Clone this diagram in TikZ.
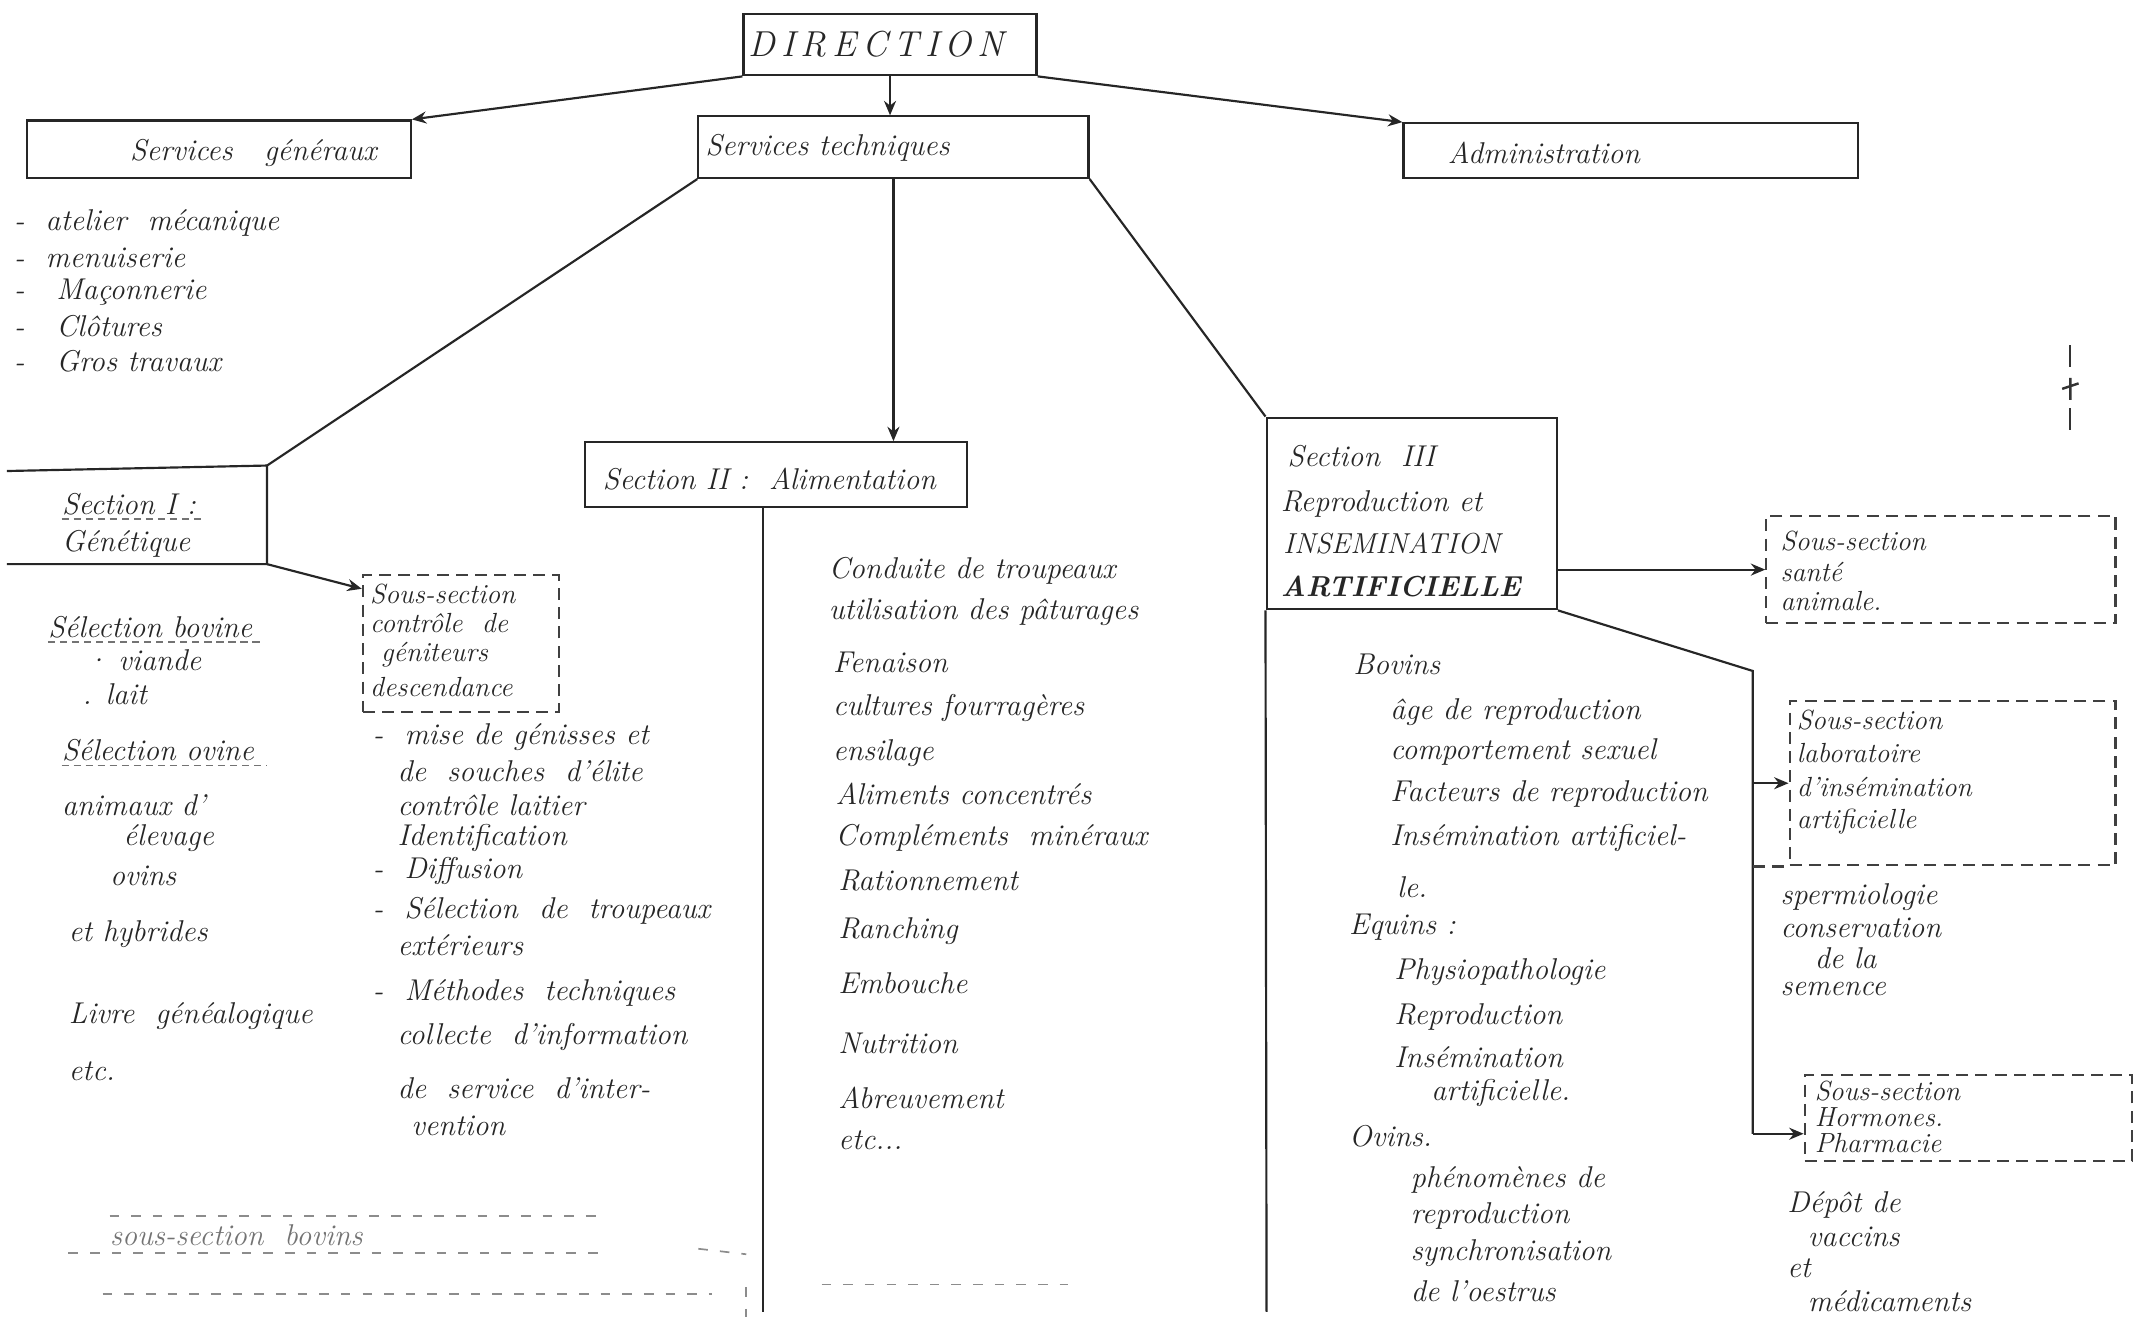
\documentclass[tikz,border=0pt]{standalone}
\usetikzlibrary{fit,arrows.meta}
\begin{document}
\begin{tikzpicture}[x=0.02cm,y=-0.02cm,
 bx/.style={draw=black!85,line width=0.9pt,inner sep=0pt},
 dbx/.style={draw=black!75,line width=0.9pt,dash pattern=on 5pt off 3pt,inner sep=0pt},
 ln/.style={draw=black!85,line width=0.9pt},
 arr/.style={ln,-{Stealth[length=6pt,width=5pt]}},
 tx/.style={anchor=west,inner sep=0pt,font=\fontsize{12.5}{14}\selectfont\itshape,text=black!85},
 stx/.style={tx,font=\fontsize{11.5}{13}\selectfont\itshape},
 ctx/.style={inner sep=0pt,font=\fontsize{12.5}{14}\selectfont\itshape,text=black!85},
 ul/.style={draw=black!55,line width=0.6pt,dash pattern=on 3pt off 2pt},
 faint/.style={draw=black!45,line width=0.7pt,dash pattern=on 4pt off 5pt}]
\useasboundingbox (0,0) rectangle (1568,979);

% top level
\node[bx,fit={(543,10)(757,55)}] (dir) {};
\node[ctx,font=\fontsize{15}{17}\selectfont\itshape] (dirt) at (640,32) {D\,I\,R\,E\,C\,T\,I\,O\,N};
\node[bx,fit={(20,88)(300,130)}] (sg) {};
\node[ctx] (sgt) at (185,112) {Services \ \ généraux};
\node[bx,fit={(510,85)(795,130)}] (st) {};
\node[tx] (stt) at (515,108) {Services techniques};
\node[bx,fit={(1025,90)(1357,130)}] (adm) {};
\node[tx] (admt) at (1057,112) {Administration};

\draw[arr] (dir.south west) -- (sg.north east);
\draw[arr] (dir.south) -- (dir.south |- st.north);
\draw[arr] (dir.south east) -- (adm.north west);

% services generaux list
\node[tx] (g1) at (10,163) {- \ atelier \ mécanique};
\node[tx] (g2) at (10,188) {- \ menuiserie};
\node[tx] (g3) at (10,213) {- \ \ Maçonnerie};
\node[tx] (g4) at (10,238) {- \ \ Clôtures};
\node[tx] (g5) at (10,264) {- \ \ Gros travaux};

% Section I
\coordinate (s1nw) at (5,344);
\coordinate (s1ne) at (195,340);
\coordinate (s1se) at (195,412);
\coordinate (s1sw) at (5,412);
\draw[ln] (s1nw) -- (s1ne) -- (s1se) -- (s1sw);
\draw[ln] (st.south west) -- (s1ne);
\node[tx] (s1a) at (45,368) {Section I :};
\draw[ul] (45,379) -- (150,379);
\node[tx] (s1b) at (45,397) {Génétique};

\node[tx] (a1) at (35,458) {Sélection bovine};
\draw[ul] (35,469) -- (190,469);
\node[tx] (a2) at (62,482) {· viande};
\node[tx] (a3) at (60,507) {. lait};
\node[tx] (a4) at (45,548) {Sélection ovine};
\draw[ul] (45,559) -- (195,559);
\node[tx] (a5) at (45,588) {animaux d'};
\node[tx] (a6) at (90,612) {élevage};
\node[tx] (a7) at (80,640) {ovins};
\node[tx] (a8) at (50,682) {et hybrides};
\node[tx] (a9) at (50,742) {Livre \ généalogique};
\node[tx] (a10) at (50,782) {etc.};

% Sous-section genetique
\node[dbx,fit={(265,420)(408,520)}] (ss1) {};
\draw[arr] (s1se) -- ([yshift=0.8cm]ss1.west);
\node[stx] (ss1a) at (270,434) {Sous-section};
\node[stx] (ss1b) at (270,455) {contrôle \ de};
\node[stx] (ss1c) at (278,478) {géniteurs};
\node[stx] (ss1d) at (270,502) {descendance};

\node[tx] (b1) at (272,538) {- \ mise de génisses et};
\node[tx] (b2) at (290,563) {de \ souches \ d'élite};
\node[tx] (b3) at (290,588) {contrôle laitier};
\node[tx] (b4) at (290,612) {Identification};
\node[tx] (b5) at (272,636) {- \ Diffusion};
\node[tx] (b6) at (272,665) {- \ Sélection \ de \ troupeaux};
\node[tx] (b7) at (290,690) {extérieurs};
\node[tx] (b8) at (272,725) {- \ Méthodes \ techniques};
\node[tx] (b9) at (290,757) {collecte \ d'information};
\node[tx] (b10) at (290,795) {de \ service \ d'inter-};
\node[tx] (b11) at (300,822) {vention};

% faint bottom-left part
\draw[faint] (80,888) -- (440,888);
\node[tx,text=black!55] (bss) at (80,902) {sous-section \ bovins};
\draw[faint] (50,915) -- (440,915);
\draw[faint] (510,912) -- (545,916);
\draw[faint] (75,945) -- (520,945);
\draw[faint] (545,940) -- (545,962);

% Section II
\node[bx,fit={(427,323)(706,370)}] (s2) {};
\draw[arr] (st.south) -- (st.south |- s2.north);
\node[tx] (s2t) at (440,350) {Section II : \ Alimentation};
\coordinate (s2end) at (557,958);
\draw[ln] (s2.south -| s2end) -- (s2end);
\draw[faint] (600,938) -- (780,938);

\node[tx] (c1) at (605,417) {Conduite de troupeaux};
\node[tx] (c2) at (605,447) {utilisation des pâturages};
\node[tx] (c3) at (608,484) {Fenaison};
\node[tx] (c4) at (608,517) {cultures fourragères};
\node[tx] (c5) at (608,550) {ensilage};
\node[tx] (c6) at (610,580) {Aliments concentrés};
\node[tx] (c7) at (610,612) {Compléments \ minéraux};
\node[tx] (c8) at (612,643) {Rationnement};
\node[tx] (c9) at (612,680) {Ranching};
\node[tx] (c10) at (612,718) {Embouche};
\node[tx] (c11) at (612,762) {Nutrition};
\node[tx] (c12) at (612,802) {Abreuvement};
\node[tx] (c13) at (612,833) {etc...};

% Section III
\node[bx,fit={(925,305)(1137,445)}] (s3) {};
\draw[ln] (st.south east) -- (s3.north west);
\coordinate (s3end) at (925,958);
\draw[ln] (s3.south west) -- (s3end);
\node[tx] (s3a) at (940,333) {Section \ III};
\node[tx] (s3b) at (935,368) {Reproduction et};
\node[tx,font=\fontsize{12}{14}\selectfont\itshape] (s3c) at (937,397) {INSEMINATION};
\node[tx,font=\fontsize{12}{14}\selectfont\bfseries\itshape] (s3d) at (935,428) {ARTIFICIELLE};

\node[tx] (d1) at (988,485) {Bovins};
\node[tx] (d2) at (1015,520) {âge de reproduction};
\node[tx] (d3) at (1015,549) {comportement sexuel};
\node[tx] (d4) at (1015,580) {Facteurs de reproduction};
\node[tx] (d5) at (1015,612) {Insémination artificiel-};
\node[tx] (d6) at (1020,648) {le.};
\node[tx] (d7) at (985,677) {Equins :};
\node[tx] (d8) at (1018,710) {Physiopathologie};
\node[tx] (d9) at (1018,743) {Reproduction};
\node[tx] (d10) at (1018,772) {Insémination};
\node[tx] (d11) at (1045,798) {artificielle.};
\node[tx] (d12) at (985,830) {Ovins.};
\node[tx] (d13) at (1030,862) {phénomènes de};
\node[tx] (d14) at (1030,888) {reproduction};
\node[tx] (d15) at (1030,915) {synchronisation};
\node[tx] (d16) at (1030,943) {de l'oestrus};

% Sous-section sante animale
\node[dbx,fit={(1290,377)(1545,455)}] (ssa) {};
\draw[arr] (s3.east |- ssa.west) -- (ssa.west);
\node[stx] (ssaa) at (1300,395) {Sous-section};
\node[stx] (ssab) at (1300,418) {santé};
\node[stx] (ssac) at (1300,439) {animale.};

% Sous-section laboratoire
\node[dbx,fit={(1307,512)(1545,632)}] (ssl) {};
\node[dbx,fit={(1318,785)(1557,848)}] (ssh) {};
\coordinate (bend) at (1280,490);
\coordinate (bend2) at (1280,828);
\draw[ln] (s3.south east) -- (bend) -- (bend2);
\draw[arr] (bend |- ssl.west) -- (ssl.west);
\draw[arr] (bend2) -- (ssh.west |- bend2);
\draw[dbx] (bend |- ssl.south) -- (ssl.south west);
\node[stx] (ssla) at (1312,526) {Sous-section};
\node[stx] (sslb) at (1312,550) {laboratoire};
\node[stx] (sslc) at (1312,575) {d'insémination};
\node[stx] (ssld) at (1312,600) {artificielle};

\node[tx] (e1) at (1300,655) {spermiologie};
\node[tx] (e2) at (1300,678) {conservation};
\node[tx] (e3) at (1325,700) {de la};
\node[tx] (e4) at (1300,722) {semence};

\node[stx] (ssha) at (1325,797) {Sous-section};
\node[stx] (sshb) at (1325,816) {Hormones.};
\node[stx] (sshc) at (1325,835) {Pharmacie};

\node[tx] (f1) at (1305,880) {Dépôt de};
\node[tx] (f2) at (1320,903) {vaccins};
\node[tx] (f3) at (1305,926) {et};
\node[tx] (f4) at (1320,950) {médicaments};

% stray mark top right
\draw[line width=0.8pt,black!80] (1512,252) -- (1512,268);
\draw[line width=1pt,black!80] (1506,284) -- (1518,280) (1512,276) -- (1512,292);
\draw[line width=0.8pt,black!80] (1512,298) -- (1512,314);
\end{tikzpicture}
\end{document}
